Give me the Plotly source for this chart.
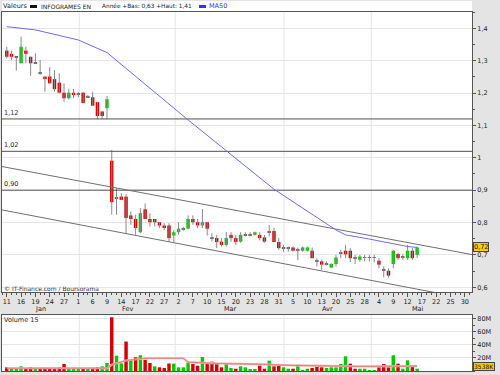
import plotly.graph_objects as go

# ---------------- data ----------------
opens = [1.331, 1.321, 1.310, 1.292, 1.331, 1.312, 1.292, 1.261, 1.251, 1.251,
         1.243, 1.232, 1.201, 1.184, 1.201, 1.197, 1.201, 1.189, 1.187, 1.172,
         1.143, 1.153, 0.991, 0.875, 0.880, 0.880, 0.822, 0.811, 0.770, 0.841,
         0.811, 0.811, 0.801, 0.791, 0.791, 0.760, 0.770, 0.780, 0.781, 0.811,
         0.801, 0.791, 0.801, 0.752, 0.752, 0.741, 0.731, 0.762, 0.752, 0.741,
         0.762, 0.762, 0.762, 0.762, 0.754, 0.770, 0.774, 0.740, 0.721, 0.721,
         0.723, 0.716, 0.713, 0.713, 0.713, 0.682, 0.680, 0.672, 0.661, 0.672,
         0.705, 0.713, 0.713, 0.690, 0.685, 0.692, 0.692, 0.692, 0.682, 0.654,
         0.651, 0.672, 0.703, 0.695, 0.690, 0.713, 0.700]
highs = [1.343, 1.331, 1.312, 1.374, 1.343, 1.312, 1.323, 1.302, 1.251, 1.280,
         1.271, 1.261, 1.230, 1.213, 1.213, 1.204, 1.204, 1.194, 1.204, 1.172,
         1.143, 1.191, 1.024, 0.906, 0.891, 0.888, 0.834, 0.824, 0.845, 0.859,
         0.829, 0.811, 0.801, 0.798, 0.798, 0.777, 0.801, 0.786, 0.822, 0.822,
         0.811, 0.842, 0.801, 0.767, 0.762, 0.752, 0.771, 0.770, 0.762, 0.770,
         0.770, 0.770, 0.772, 0.770, 0.762, 0.792, 0.784, 0.752, 0.731, 0.726,
         0.726, 0.723, 0.726, 0.726, 0.723, 0.690, 0.685, 0.680, 0.675, 0.700,
         0.716, 0.731, 0.721, 0.700, 0.700, 0.700, 0.700, 0.700, 0.690, 0.664,
         0.659, 0.716, 0.706, 0.703, 0.731, 0.721, 0.726]
lows = [1.307, 1.302, 1.269, 1.292, 1.292, 1.253, 1.290, 1.256, 1.204, 1.230,
        1.204, 1.199, 1.173, 1.180, 1.184, 1.187, 1.169, 1.184, 1.161, 1.119,
        1.119, 1.119, 0.824, 0.824, 0.870, 0.767, 0.793, 0.762, 0.767, 0.811,
        0.788, 0.788, 0.783, 0.777, 0.740, 0.740, 0.762, 0.775, 0.781, 0.793,
        0.783, 0.783, 0.760, 0.741, 0.721, 0.726, 0.726, 0.741, 0.731, 0.738,
        0.757, 0.757, 0.760, 0.745, 0.738, 0.757, 0.740, 0.716, 0.710, 0.710,
        0.710, 0.684, 0.710, 0.710, 0.690, 0.664, 0.654, 0.667, 0.659, 0.664,
        0.690, 0.690, 0.678, 0.672, 0.680, 0.680, 0.680, 0.677, 0.659, 0.631,
        0.630, 0.659, 0.685, 0.685, 0.685, 0.685, 0.690]
closes = [1.312, 1.312, 1.310, 1.343, 1.321, 1.292, 1.292, 1.261, 1.243, 1.230,
          1.212, 1.201, 1.184, 1.201, 1.194, 1.197, 1.169, 1.189, 1.161, 1.129,
          1.129, 1.181, 0.863, 0.875, 0.870, 0.814, 0.811, 0.783, 0.829, 0.811,
          0.801, 0.801, 0.791, 0.783, 0.752, 0.770, 0.781, 0.780, 0.811, 0.801,
          0.791, 0.801, 0.781, 0.752, 0.740, 0.731, 0.752, 0.752, 0.740, 0.762,
          0.762, 0.762, 0.770, 0.752, 0.741, 0.770, 0.740, 0.721, 0.721, 0.721,
          0.713, 0.716, 0.723, 0.723, 0.690, 0.682, 0.670, 0.672, 0.672, 0.692,
          0.705, 0.702, 0.690, 0.690, 0.695, 0.692, 0.692, 0.692, 0.670, 0.654,
          0.636, 0.713, 0.690, 0.695, 0.713, 0.690, 0.723]

volumes_m = [5.6, 3.5, 4.6, 7.1, 3.5, 5.6, 3.5, 4.6, 3.5, 4.6,
             4.6, 5.6, 10.7, 3.5, 3.0, 3.0, 3.0, 3.0, 4.6, 5.6,
             7.1, 12.2, 82.0, 23.4, 11.7, 45.0, 16.8, 21.0, 24.0, 17.0,
             12.2, 7.1, 5.6, 4.6, 11.5, 11.2, 5.6, 5.6, 13.2, 10.7,
             8.1, 21.4, 13.2, 14.2, 11.2, 5.6, 11.2, 4.6, 3.5, 7.1,
             5.6, 3.0, 3.0, 8.1, 3.5, 15.8, 7.1, 8.6, 5.6, 3.5,
             3.5, 9.6, 1.5, 3.5, 4.6, 7.1, 5.6, 4.6, 5.6, 5.6,
             10.7, 22.4, 11.2, 3.5, 3.5, 3.5, 1.5, 1.5, 5.6, 10.7,
             5.6, 24.0, 11.2, 3.5, 16.3, 7.1, 3.538]
volume_dir = ("duuudduddd" "ddduuududd" "uuduududud" "duddduuuud"
              "dudddduudu" "uuuddudduu" "duuuddduuu" "uudduuuudd"
              "duduudu")

ma50_idx = [0, 6, 15, 21, 38, 49, 56, 69, 71, 76, 81, 84, 86]
ma50_val = [1.405, 1.395, 1.364, 1.325, 1.117, 0.988, 0.903, 0.777, 0.762,
            0.749, 0.734, 0.726, 0.723]

vol15_idx = [0, 21, 22, 25, 29, 37, 38, 44, 52, 60, 74, 86]
vol15_val = [4.2, 4.5, 9.5, 16.0, 19.5, 19.5, 13.5, 11.5, 10.5, 8.5, 7.0, 7.5]

levels = [1.12, 1.02, 0.90]
level_labels = ["1,12", "1,02", "0,90"]

channel_x = [-1, 97.5]
channel_upper = [0.973, 0.701]
channel_lower = [0.839, 0.562]

day_labels = ["11", "16", "19", "24", "27", "1", "6", "9", "14", "17", "22",
              "27", "2", "7", "10", "15", "20", "23", "28", "31", "5", "10",
              "13", "20", "25", "28", "4", "9", "12", "17", "22", "25", "30"]
months = ["Jan", "Fev", "Mar", "Avr", "Mai"]
month_pos = [7, 25.4, 46.8, 67.2, 86.2]
month_bounds = [15.2, 35.3, 58.1, 76.4]

price_ticks = [0.6, 0.7, 0.8, 0.9, 1.0, 1.1, 1.2, 1.3, 1.4]
price_tick_text = ["0,6", "0,7", "0,8", "0,9", "1", "1,1", "1,2", "1,3", "1,4"]
vol_ticks = [20, 40, 60, 80]
vol_tick_text = ["20M", "40M", "60M", "80M"]

last_price_text = "0,72"
last_volume_text = "3538K"

# ---------------- geometry helpers ----------------
W, H = 500, 375
def fx(p):
    return p / W
def fy(p):
    return 1 - p / H

X0, X1 = fx(2), fx(472)
MAIN = [fy(292), fy(12)]
VOL = [fy(371), fy(315)]
XR = [-1, 97.5]

n = len(opens)
idx = list(range(n))

RED = "#d40000"
GREEN = "#00c800"
GRID = "#e6e6e6"
AXC = "#555555"
FONT = "DejaVu Sans"
FS = 6.5

fig = go.Figure()

# wicks
wx, wy = [], []
for i in idx:
    wx += [i, i, None]
    wy += [lows[i], highs[i], None]
fig.add_trace(go.Scatter(x=wx, y=wy, mode="lines",
                         line=dict(color="#8a8a8a", width=1),
                         hoverinfo="skip", showlegend=False,
                         xaxis="x", yaxis="y"))

# bodies
bbase, bh, bcol = [], [], []
for i in idx:
    o, c = opens[i], closes[i]
    if abs(c - o) < 0.0015:
        bbase.append(min(o, c) - 0.0015)
        bh.append(0.003)
        bcol.append("#666666")
    else:
        bbase.append(min(o, c))
        bh.append(abs(c - o))
        bcol.append(GREEN if c > o else RED)
fig.add_trace(go.Bar(x=idx, y=bh, base=bbase, width=0.72,
                     marker=dict(color=bcol, line=dict(width=0)),
                     showlegend=False, xaxis="x", yaxis="y"))

# level lines
for lv in levels:
    fig.add_trace(go.Scatter(x=XR, y=[lv, lv], mode="lines",
                             line=dict(color="#505050", width=1),
                             showlegend=False, hoverinfo="skip",
                             xaxis="x", yaxis="y"))

# channel
fig.add_trace(go.Scatter(x=channel_x, y=channel_upper, mode="lines",
                         line=dict(color="#707070", width=1),
                         showlegend=False, xaxis="x", yaxis="y"))
fig.add_trace(go.Scatter(x=channel_x, y=channel_lower, mode="lines",
                         line=dict(color="#707070", width=1),
                         showlegend=False, xaxis="x", yaxis="y"))

# MA50
fig.add_trace(go.Scatter(x=ma50_idx, y=ma50_val, mode="lines",
                         line=dict(color="#6a6aff", width=1),
                         showlegend=False, xaxis="x", yaxis="y"))

# volume
vcol = [GREEN if d == "u" else RED for d in volume_dir]
fig.add_trace(go.Bar(x=idx, y=volumes_m, width=0.72,
                     marker=dict(color=vcol, line=dict(width=0)),
                     showlegend=False, xaxis="x2", yaxis="y2"))
fig.add_trace(go.Scatter(x=vol15_idx, y=vol15_val, mode="lines",
                         line=dict(color="#f4b0b0", width=2.2),
                         showlegend=False, xaxis="x2", yaxis="y2"))
fig.add_trace(go.Scatter(x=vol15_idx, y=vol15_val, mode="lines",
                         line=dict(color="#e07070", width=0.8),
                         showlegend=False, xaxis="x2", yaxis="y2"))

shapes = []
# white legend strip
shapes.append(dict(type="rect", xref="paper", yref="paper",
                   x0=X0, x1=X1, y0=MAIN[1], y1=fy(1),
                   fillcolor="white", line=dict(width=0), layer="below"))
# month gridlines
for b in month_bounds:
    for ya in ("y", "y2"):
        shapes.append(dict(type="line", xref="x", yref=ya + " domain",
                           x0=b, x1=b, y0=0, y1=1,
                           line=dict(color=GRID, width=1), layer="below"))

ann = []
tf = dict(family=FONT, size=FS, color="#222222")
lf = dict(family=FONT, size=6, color="#222222")
for lv, lt in zip(levels, level_labels):
    ann.append(dict(x=fx(2), y=lv, xref="paper", yref="y", text=lt,
                    showarrow=False, xanchor="left", yanchor="bottom",
                    yshift=0, font=tf))
for m, p in zip(months, month_pos):
    ann.append(dict(x=p, y=fy(308.5), xref="x", yref="paper", text=m,
                    showarrow=False, yanchor="middle", font=tf))
ann.append(dict(x=fx(2), y=fy(288), xref="paper", yref="paper",
                text="© IT-Finance.com / Boursorama", showarrow=False,
                xanchor="left", yanchor="middle",
                font=dict(family=FONT, size=6, color="#333")))
ann.append(dict(x=fx(2), y=fy(319.5), xref="paper", yref="paper",
                text="Volume 15", showarrow=False, xanchor="left",
                yanchor="middle", font=tf))
# legend line
ann.append(dict(x=fx(1), y=fy(6.5), xref="paper", yref="paper", text="Valeurs",
                showarrow=False, xanchor="left", yanchor="middle", font=tf))
ann.append(dict(x=fx(39), y=fy(6.5), xref="paper", yref="paper",
                text="INFOGRAMES EN", showarrow=False, xanchor="left",
                yanchor="middle", font=lf))
ann.append(dict(x=fx(100), y=fy(6.5), xref="paper", yref="paper",
                text="Année +Bas: 0,63 +Haut: 1,41", showarrow=False,
                xanchor="left", yanchor="middle", font=dict(family=FONT, size=5.8, color="#222")))
ann.append(dict(x=fx(207), y=fy(6.5), xref="paper", yref="paper", text="MA50",
                showarrow=False, xanchor="left", yanchor="middle",
                font=dict(family=FONT, size=FS, color="#3333ff")))
shapes.append(dict(type="line", xref="paper", yref="paper", x0=fx(30), x1=fx(37),
                   y0=fy(6.5), y1=fy(6.5), line=dict(color="#111", width=3)))
shapes.append(dict(type="line", xref="paper", yref="paper", x0=fx(199), x1=fx(206),
                   y0=fy(6.5), y1=fy(6.5), line=dict(color="#3333ff", width=3)))
# last value boxes
ann.append(dict(x=fx(472.5), y=closes[-1], xref="paper", yref="y",
                text=last_price_text, showarrow=False, xanchor="left",
                yanchor="middle",
                bgcolor="#ffcc00", bordercolor="#444", borderwidth=1, borderpad=0,
                font=dict(family=FONT, size=FS, color="#111")))
ann.append(dict(x=fx(472.5), y=fy(366.5), xref="paper", yref="paper",
                text=last_volume_text, showarrow=False, xanchor="left",
                yanchor="middle",
                bgcolor="#ffcc00", bordercolor="#444", borderwidth=1, borderpad=0,
                font=dict(family=FONT, size=6, color="#111")))

axis_common = dict(showline=True, linecolor=AXC, linewidth=1, mirror=True,
                   zeroline=False, automargin=False)

fig.update_layout(
    template="none",
    width=W, height=H, margin=dict(l=0, r=0, t=0, b=0, pad=0),
    paper_bgcolor="#e4e4e4", plot_bgcolor="white",
    barmode="overlay", showlegend=False,
    font=dict(family=FONT, size=FS, color="#222"),
    shapes=shapes, annotations=ann,
    xaxis=dict(domain=[X0, X1], range=XR, anchor="y",
               tickvals=list(range(0, 3 * len(day_labels), 3)),
               ticktext=day_labels, ticks="outside", ticklen=4,
               tickcolor=AXC, tickfont=dict(family=FONT, size=FS, color="#222"),
               ticklabelstandoff=-1,
               minor=dict(dtick=1, tick0=0, ticks="outside", ticklen=2,
                          tickcolor=AXC, showgrid=False),
               showgrid=False, **axis_common),
    yaxis=dict(domain=MAIN, range=[0.5855, 1.4503], side="right", anchor="x",
               tickvals=price_ticks, ticktext=price_tick_text,
               ticks="outside", ticklen=3, tickcolor=AXC,
               tickfont=dict(family=FONT, size=FS, color="#222"),
               minor=dict(dtick=0.05, tick0=0, ticks="outside", ticklen=2,
                          tickcolor=AXC, showgrid=False),
               showgrid=True, gridcolor=GRID, **axis_common),
    xaxis2=dict(domain=[X0, X1], range=XR, anchor="y2", matches="x",
                showticklabels=False, ticks="", showgrid=False, **axis_common),
    yaxis2=dict(domain=VOL, range=[0, 85.5], side="right", anchor="x2",
                tickvals=vol_ticks, ticktext=vol_tick_text,
                ticks="outside", ticklen=3, tickcolor=AXC,
                tickfont=dict(family=FONT, size=FS, color="#222"),
                minor=dict(dtick=10, tick0=0, ticks="outside", ticklen=2,
                           tickcolor=AXC, showgrid=False),
                showgrid=True, gridcolor=GRID, **axis_common),
)

fig.write_html("out.html", config={"displayModeBar": False},
               post_script="document.body.style.margin='0px';")
